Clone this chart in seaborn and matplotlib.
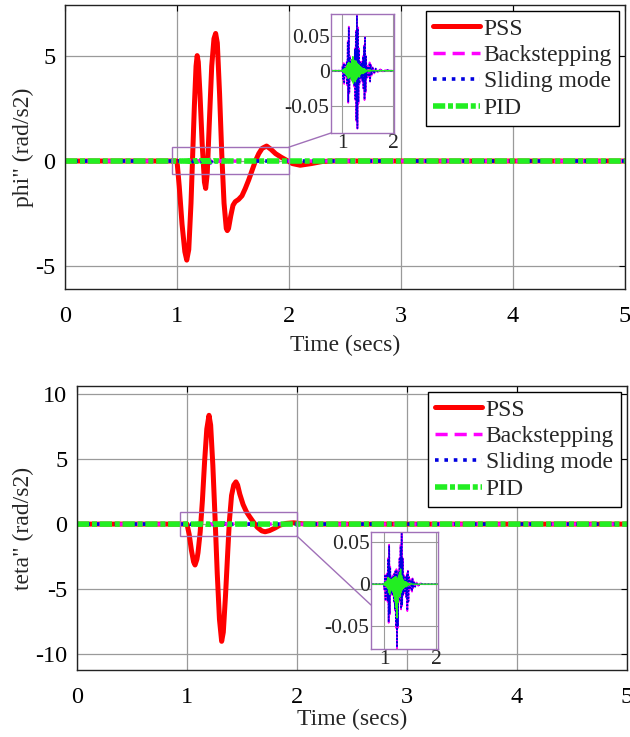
import matplotlib
matplotlib.use("Agg")
import matplotlib.pyplot as plt
import seaborn as sns
import pandas as pd
from matplotlib.patches import Rectangle, ConnectionPatch

# ---------------- data ----------------
series_names = ["PSS", "Backstepping", "Sliding mode", "PID"]

t_pss_phi = [0, 1.0, 1.02, 1.045, 1.07, 1.087, 1.105, 1.125, 1.14, 1.155, 1.17, 1.18, 1.19,
             1.205, 1.225, 1.245, 1.256, 1.27, 1.29, 1.31, 1.33, 1.345, 1.36, 1.38, 1.40,
             1.42, 1.44, 1.449, 1.46, 1.48, 1.50, 1.52, 1.55, 1.58, 1.61, 1.64, 1.67, 1.70,
             1.73, 1.76, 1.80, 1.84, 1.88, 1.93, 1.98, 2.03, 2.10, 2.20, 2.30, 2.40, 5.0]
pss_phi = [0, 0, -1.2, -3.0, -4.3, -4.7, -4.2, -2.0, 0.3, 2.6, 4.5, 5.0, 4.7,
           3.2, 0.8, -1.0, -1.3, -0.6, 2.0, 4.5, 5.8, 6.05, 5.6, 3.2, 0.3,
           -2.0, -3.2, -3.3, -3.2, -2.6, -2.1, -1.93, -1.82, -1.65, -1.3, -0.9, -0.45, 0.0,
           0.35, 0.6, 0.71, 0.55, 0.35, 0.18, 0.03, -0.12, -0.2, -0.12, -0.02, 0, 0]

t_pss_teta = [0, 1.0, 1.02, 1.04, 1.06, 1.073, 1.09, 1.10, 1.12, 1.14, 1.16, 1.18, 1.20,
              1.215, 1.235, 1.255, 1.275, 1.295, 1.315, 1.33, 1.35, 1.37, 1.385, 1.405,
              1.425, 1.445, 1.46, 1.48, 1.51, 1.54, 1.57, 1.60, 1.64, 1.68, 1.71, 1.75,
              1.80, 1.845, 1.90, 1.97, 2.05, 2.15, 5.0]
pss_teta = [0, 0, -0.8, -2.0, -2.9, -3.14, -2.7, -2.2, -0.6, 1.8, 4.8, 7.3, 8.35,
            7.6, 4.5, 0.5, -3.8, -7.3, -9.0, -8.3, -5.5, -2.2, 0.2, 2.2,
            3.0, 3.24, 3.0, 2.3, 1.5, 0.95, 0.56, 0.2, -0.25, -0.52, -0.59, -0.5,
            -0.3, -0.08, 0.05, 0.1, 0.02, 0, 0]

t_ctrl = [0, 1.00, 1.01, 1.02, 1.03, 1.04, 1.05, 1.06, 1.07, 1.08, 1.09,
          1.10, 1.11, 1.12, 1.13, 1.14, 1.15, 1.16, 1.17, 1.18, 1.19,
          1.20, 1.21, 1.22, 1.23, 1.24, 1.25, 1.26, 1.27, 1.28, 1.29,
          1.30, 1.31, 1.32, 1.33, 1.34, 1.35, 1.36, 1.37, 1.38, 1.39,
          1.40, 1.41, 1.42, 1.43, 1.44, 1.45, 1.46, 1.47, 1.48,
          1.50, 1.52, 1.54, 1.55, 1.56, 1.58, 1.60, 1.63, 1.66, 1.70, 1.75, 1.80, 1.87, 1.95, 5.0]

slide_phi = [0, 0, 0.006, -0.012, 0.010, -0.018, 0.008, -0.006, 0.004, -0.008, 0.012,
             -0.020, 0.040, -0.044, 0.061, -0.030, 0.020, -0.010, 0.008, -0.012, 0.010,
             -0.008, 0.012, -0.015, 0.018, -0.022, 0.030, -0.040, 0.055, -0.070, 0.078,
             -0.082, 0.060, -0.045, 0.030, -0.018, 0.012, -0.010, 0.008, -0.010, 0.012,
             -0.015, 0.020, -0.025, 0.035, -0.041, 0.047, -0.030, 0.020, -0.010,
             0.006, -0.008, 0.011, -0.015, 0.008, -0.006, 0.004, -0.004, 0.003, -0.002, 0.002, -0.001, 0.001, 0, 0]
back_phi = [0, 0, 0.007, -0.013, 0.011, -0.019, 0.009, -0.007, 0.005, -0.009, 0.013,
            -0.021, 0.042, -0.046, 0.063, -0.032, 0.021, -0.011, 0.009, -0.013, 0.011,
            -0.009, 0.013, -0.016, 0.019, -0.023, 0.032, -0.042, 0.057, -0.072, 0.080,
            -0.083, 0.062, -0.047, 0.032, -0.019, 0.013, -0.011, 0.009, -0.011, 0.013,
            -0.016, 0.021, -0.026, 0.036, -0.042, 0.048, -0.031, 0.021, -0.011,
            0.007, -0.009, 0.012, -0.016, 0.009, -0.007, 0.005, -0.004, 0.003, -0.002, 0.002, -0.001, 0.001, 0, 0]
pid_phi = [0, 0, 0.001, -0.002, 0.002, -0.003, 0.003, -0.003, 0.004, -0.006, 0.007,
           -0.008, 0.010, -0.011, 0.012, -0.010, 0.009, -0.008, 0.010, -0.012, 0.016,
           -0.015, 0.020, -0.018, 0.015, -0.014, 0.012, -0.016, 0.014, -0.012, 0.011,
           -0.010, 0.009, -0.008, 0.008, -0.009, 0.006, -0.005, 0.005, -0.004, 0.004,
           -0.004, 0.003, -0.004, 0.003, -0.002, 0.002, -0.002, 0.001, -0.001,
           0.001, -0.001, 0.001, -0.001, 0.001, 0, 0, 0, 0, 0, 0, 0, 0, 0, 0]

slide_teta = [0, 0, -0.006, 0.010, -0.018, 0.008, -0.010, 0.012, -0.020, 0.030, -0.045,
              0.046, -0.035, 0.020, -0.012, 0.008, -0.010, 0.006, -0.012, 0.010, -0.020,
              0.012, -0.030, 0.015, -0.050, 0.017, -0.075, 0.010, -0.050, 0.015, -0.020,
              0.030, -0.015, 0.045, -0.029, 0.060, -0.025, 0.030, -0.012, 0.010, -0.008,
              0.006, -0.010, 0.008, -0.015, 0.012, -0.031, 0.015, -0.020, 0.008,
              -0.006, 0.005, -0.008, 0.006, -0.004, 0.003, -0.003, 0.002, -0.002, 0.001, 0, 0, 0, 0, 0]
back_teta = [0, 0, -0.007, 0.011, -0.019, 0.009, -0.011, 0.013, -0.021, 0.031, -0.046,
             0.047, -0.036, 0.021, -0.013, 0.009, -0.011, 0.007, -0.013, 0.011, -0.021,
             0.013, -0.031, 0.016, -0.052, 0.018, -0.077, 0.011, -0.052, 0.016, -0.021,
             0.031, -0.016, 0.047, -0.030, 0.061, -0.026, 0.031, -0.013, 0.011, -0.009,
             0.007, -0.011, 0.009, -0.016, 0.013, -0.032, 0.016, -0.021, 0.009,
             -0.007, 0.006, -0.009, 0.007, -0.005, 0.003, -0.003, 0.002, -0.002, 0.001, 0, 0, 0, 0, 0]
pid_teta = [0, 0, -0.001, 0.002, -0.002, 0.003, -0.003, 0.004, -0.005, 0.008, -0.010,
            0.007, -0.012, 0.006, -0.008, 0.005, -0.006, 0.006, -0.009, 0.007, -0.014,
            0.008, -0.020, 0.009, -0.028, 0.008, -0.040, 0.006, -0.022, 0.010, -0.010,
            0.014, -0.015, 0.018, -0.010, 0.010, -0.007, 0.006, -0.005, 0.004, -0.004,
            0.003, -0.003, 0.003, -0.003, 0.002, -0.002, 0.001, -0.001, 0.001,
            -0.001, 0.001, 0, 0, 0, 0, 0, 0, 0, 0, 0, 0, 0, 0, 0]

x_ticks = [0, 1, 2, 3, 4, 5]
phi_ticks = [-5, 0, 5]
teta_ticks = [-10, -5, 0, 5, 10]
ins_xticks = [1, 2]
ins_yticks = [-0.05, 0, 0.05]
ins_ylabels = ["-0.05", "0", "0.05"]

# ---------------- style ----------------
sns.set_theme(style="white")
plt.rcParams["font.family"] = ["Liberation Serif", "DejaVu Serif"]
plt.rcParams["axes.unicode_minus"] = False

colors = {"PSS": "#ff0000", "Backstepping": "#ff00ff", "Sliding mode": "#0000e0", "PID": "#22ee22"}
main_style = {
    "PSS": dict(lw=3.6, linestyle="-"),
    "Backstepping": dict(lw=2.5, linestyle=(0, (3.5, 2.0))),
    "Sliding mode": dict(lw=2.6, linestyle=(0, (1, 1.6))),
    "PID": dict(lw=4.0, linestyle=(0, (2.2, 0.5, 0.9, 0.5))),
}
ins_style = {
    "Backstepping": dict(lw=1.2, linestyle="-"),
    "Sliding mode": dict(lw=1.2, linestyle=(0, (1, 1))),
    "PID": dict(lw=1.0, linestyle="-"),
}
purple = "#a070b8"
grid_c = "#9a9a9a"

fig = plt.figure(figsize=(6.3, 7.37), dpi=100)


def style_main(ax, yticks, ylim, ylabel, xlabelpad):
    ax.set_xlim(0, 5)
    ax.set_ylim(*ylim)
    ax.set_xticks(x_ticks)
    ax.set_yticks(yticks)
    ax.set_xticklabels([str(v) for v in x_ticks])
    ax.set_yticklabels([str(v) for v in yticks])
    ax.grid(True, color=grid_c, lw=0.9)
    ax.tick_params(direction="in", length=4, width=0.8, top=True, right=True,
                   labelsize=17.5, colors="black")
    ax.tick_params(axis="x", pad=12)
    ax.tick_params(axis="y", pad=7)
    for s in ax.spines.values():
        s.set_color("#222222")
        s.set_linewidth(1.0)
    ax.set_xlabel("Time (secs)", fontsize=17, labelpad=xlabelpad)
    ax.set_ylabel(ylabel, fontsize=17, labelpad=1)
    ax.set_facecolor("white")


def draw_main(ax, t_pss, pss, back, slide, pid):
    frames = {
        "PSS": pd.DataFrame({"t": t_pss, "v": pss}),
        "Backstepping": pd.DataFrame({"t": t_ctrl, "v": back}),
        "Sliding mode": pd.DataFrame({"t": t_ctrl, "v": slide}),
        "PID": pd.DataFrame({"t": t_ctrl, "v": pid}),
    }
    for name in series_names:
        sns.lineplot(data=frames[name], x="t", y="v", ax=ax, color=colors[name],
                     label=name, estimator=None, sort=False, **main_style[name])
    return frames


def draw_inset(axins, frames, xlim, ylim):
    for name in series_names[1:]:
        sns.lineplot(data=frames[name], x="t", y="v", ax=axins, color=colors[name],
                     estimator=None, sort=False, legend=False, **ins_style[name])
    axins.set_xlim(*xlim)
    axins.set_ylim(*ylim)
    axins.set_xticks(ins_xticks)
    axins.set_xticklabels([str(v) for v in ins_xticks])
    axins.set_yticks(ins_yticks)
    axins.set_yticklabels(ins_ylabels)
    axins.grid(True, color=grid_c, lw=0.8)
    axins.tick_params(direction="in", length=0, labelsize=15.5, pad=1.0)
    axins.set_xlabel("")
    axins.set_ylabel("")
    axins.set_facecolor("white")
    for s in axins.spines.values():
        s.set_color(purple)
        s.set_linewidth(1.0)


def legend(ax):
    leg = ax.legend(loc="upper right", fontsize=17, frameon=True, fancybox=False,
                    edgecolor="black", framealpha=1, handlelength=2.0, handletextpad=0.15,
                    labelspacing=0.21, borderpad=0.3, borderaxespad=0.25)
    leg.get_frame().set_linewidth(1.0)


# ---- top panel ----
ax1 = fig.add_axes([65 / 630, 1 - 289 / 737, 560 / 630, 284 / 737])
fr1 = draw_main(ax1, t_pss_phi, pss_phi, back_phi, slide_phi, pid_phi)
style_main(ax1, phi_ticks, (-6.07, 7.4), 'phi" (rad/s2)', 6)
legend(ax1)
ax1.add_patch(Rectangle((0.955, -0.6), 1.045, 1.26, fill=False, edgecolor=purple, lw=1.0, zorder=5))

ins1 = fig.add_axes([331 / 630, 1 - 133 / 737, 63 / 630, 119 / 737])
draw_inset(ins1, fr1, (0.78, 2.02), (-0.089, 0.081))
fig.add_artist(ConnectionPatch(xyA=(2.0, 0.66), coordsA=ax1.transData,
                               xyB=(0, 0), coordsB=ins1.transAxes, color=purple, lw=1.0))

# ---- bottom panel ----
ax2 = fig.add_axes([77 / 630, 1 - 670 / 737, 550 / 630, 284 / 737])
fr2 = draw_main(ax2, t_pss_teta, pss_teta, back_teta, slide_teta, pid_teta)
style_main(ax2, teta_ticks, (-11.2, 10.6), 'teta" (rad/s2)', 1)
legend(ax2)
ax2.add_patch(Rectangle((0.94, -0.92), 1.06, 1.84, fill=False, edgecolor=purple, lw=1.0, zorder=5))

ins2 = fig.add_axes([371 / 630, 1 - 649 / 737, 67 / 630, 117 / 737])
draw_inset(ins2, fr2, (0.75, 2.04), (-0.077, 0.062))
fig.add_artist(ConnectionPatch(xyA=(2.0, -0.92), coordsA=ax2.transData,
                               xyB=(0, 0.376), coordsB=ins2.transAxes, color=purple, lw=1.0))

fig.savefig("out.png", dpi=100, facecolor="white")
